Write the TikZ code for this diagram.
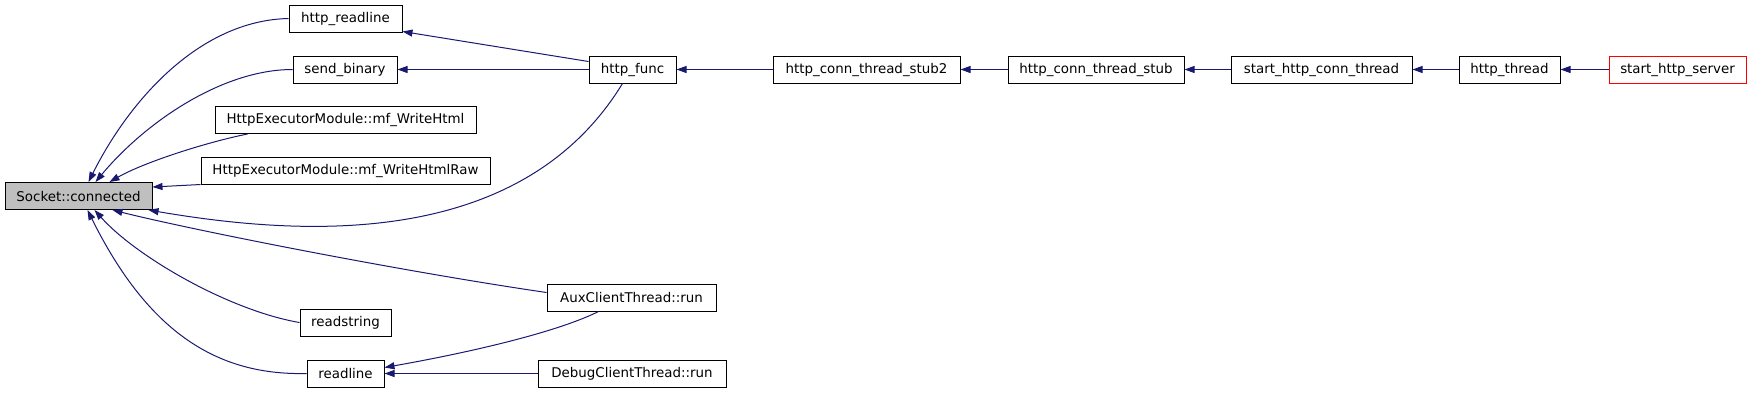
\documentclass[tikz,border=0pt]{standalone}
\usepackage{fontspec}
\setmainfont{DejaVu Sans}
\usetikzlibrary{arrows.meta, calc}
\definecolor{callblue}{HTML}{191970}
\tikzset{
    fnnode/.style={rectangle, draw=black, line width=1pt, minimum height=27pt, inner sep=0pt, font=\fontsize{13.4}{15}\selectfont},
    fnroot/.style={fnnode, fill=gray!50},
    fnstart/.style={fnnode, draw=red},
    callarrow/.style={-{Triangle[length=10pt,width=7pt]}, line width=1pt, draw=callblue}
}

\begin{document}
\begin{tikzpicture}[x=1pt, y=-1pt]
    \useasboundingbox (0,0) rectangle (1752,392);

    \node[fnroot, minimum width=147pt] (connected) at (78.5,196) {Socket::connected};
    \node[fnnode, minimum width=113pt] (readlineh) at (345.5,18.5) {http\_readline};
    \node[fnnode, minimum width=104pt] (sendbin) at (345,69.5) {send\_binary};
    \node[fnnode, minimum width=261pt] (writehtml) at (345.5,120) {HttpExecutorModule::mf\_WriteHtml};
    \node[fnnode, minimum width=289pt] (writeraw) at (345.5,170.5) {HttpExecutorModule::mf\_WriteHtmlRaw};
    \node[fnnode, minimum width=91pt] (readstring) at (345.5,322.5) {readstring};
    \node[fnnode, minimum width=77pt] (readline) at (345.5,373.5) {readline};
    \node[fnnode, minimum width=87pt] (httpfunc) at (632.5,69.5) {http\_func};
    \node[fnnode, minimum width=169pt] (auxrun) at (631.5,297.5) {AuxClientThread::run};
    \node[fnnode, minimum width=188pt] (debugrun) at (632,373.5) {DebugClientThread::run};
    \node[fnnode, minimum width=187pt] (stubtwo) at (866.5,69.5) {http\_conn\_thread\_stub2};
    \node[fnnode, minimum width=176pt] (stub) at (1096,69.5) {http\_conn\_thread\_stub};
    \node[fnnode, minimum width=181pt] (startconn) at (1321.5,69.5) {start\_http\_conn\_thread};
    \node[fnnode, minimum width=101pt] (httpthread) at (1509.5,69.5) {http\_thread};
    \node[fnstart, minimum width=137pt] (startserver) at (1677.5,69.5) {start\_http\_server};

    % callers of Socket::connected
    \draw[callarrow] (readlineh.west) .. controls +(-90,2) and +(40,-80) .. ($(connected.north)+(10,0)$);
    \draw[callarrow] (sendbin.west) .. controls +(-70,0) and +(50,-60) .. ($(connected.north)+(17,0)$);
    \draw[callarrow] ($(writehtml.south west)+(33,0)$) .. controls +(-40,8) and +(35,-20) .. ($(connected.north)+(31,0)$);
    \draw[callarrow] (writeraw.south west) -- ($(connected.north east)+(0,5)$);
    \draw[callarrow] ($(httpfunc.south)+(-10,0)$) .. controls +(-102,167) and +(152,26) .. ($(connected.south east)+(-4,0)$);
    \draw[callarrow] ($(auxrun.west)+(0,-5)$) .. controls +(-150,-22) and +(80,20) .. ($(connected.south)+(34,0)$);
    \draw[callarrow] (readstring.west) .. controls +(-70,-12) and +(42,47) .. ($(connected.south)+(16,0)$);
    \draw[callarrow] (readline.west) .. controls +(-87,2) and +(62,125) .. ($(connected.south)+(9,0)$);

    % callers of readline
    \draw[callarrow] ($(auxrun.south)+(-33,0)$) .. controls +(-38,19) and +(96,-17) .. ($(readline.east)+(0,-6)$);
    \draw[callarrow] (debugrun.west) -- (readline.east);

    % http_func and the server chain
    \draw[callarrow] ($(httpfunc.north west)+(0,6)$) -- ($(readlineh.south east)+(0,-1)$);
    \draw[callarrow] (httpfunc.west) -- (sendbin.east);
    \draw[callarrow] (stubtwo.west) -- (httpfunc.east);
    \draw[callarrow] (stub.west) -- (stubtwo.east);
    \draw[callarrow] (startconn.west) -- (stub.east);
    \draw[callarrow] (httpthread.west) -- (startconn.east);
    \draw[callarrow] (startserver.west) -- (httpthread.east);
\end{tikzpicture}
\end{document}
